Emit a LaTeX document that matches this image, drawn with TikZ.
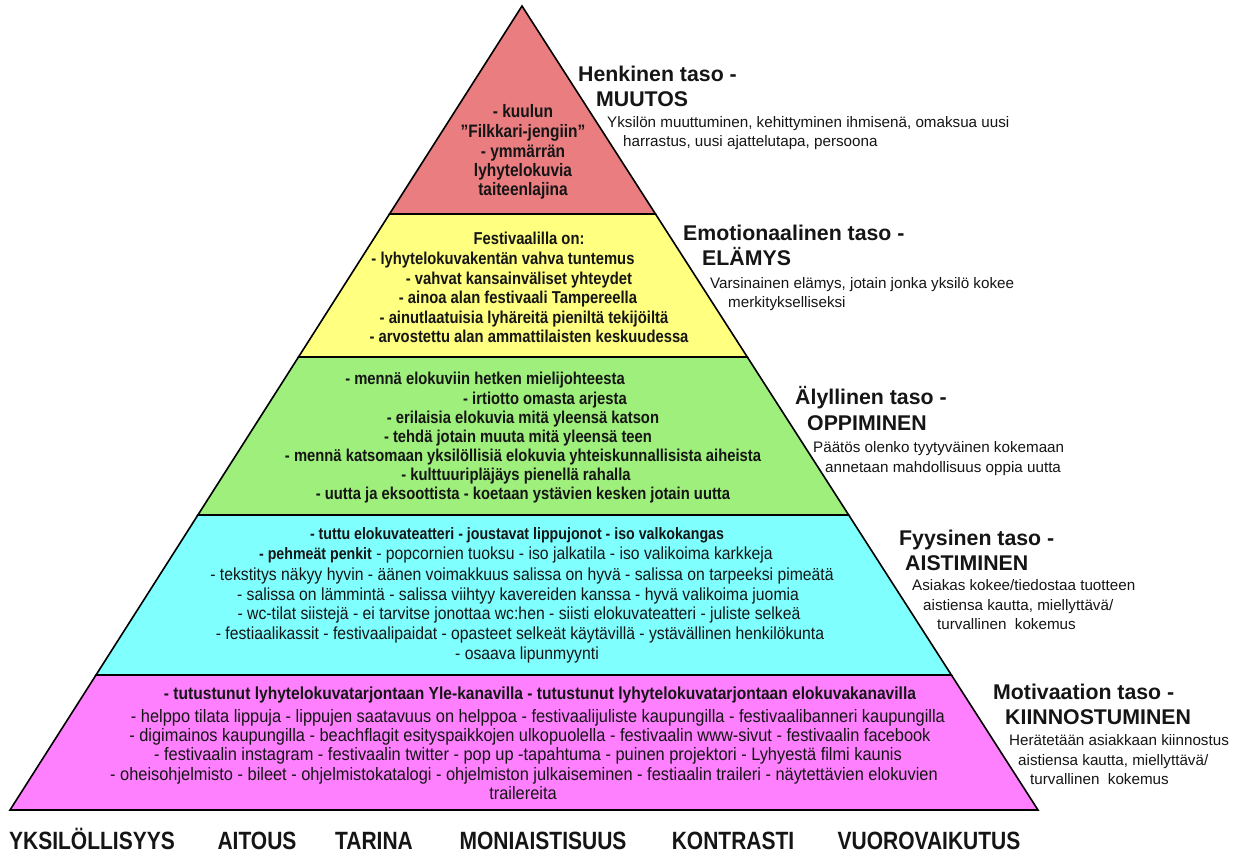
\documentclass[tikz,border=0pt]{standalone}
\usepackage{fontspec}
\setmainfont{Liberation Sans}
\newfontfamily\bandfont[FakeStretch=0.86]{Liberation Sans}
\newfontfamily\cyfont[FakeStretch=0.90]{Liberation Sans}
\newfontfamily\magbfont[FakeStretch=0.89]{Liberation Sans}
\newfontfamily\magfont[FakeStretch=0.91]{Liberation Sans}
\newfontfamily\capfont[FakeStretch=0.84]{Liberation Sans}
\definecolor{bred}{HTML}{E97D80}
\definecolor{byel}{HTML}{FFFF80}
\definecolor{bgrn}{HTML}{9FEF7C}
\definecolor{bcyn}{HTML}{80FFFF}
\definecolor{bmag}{HTML}{FF80FF}
\definecolor{ink}{HTML}{151515}
\tikzset{
  band/.style={draw=black, line width=1.6pt, line join=miter},
  tx/.style={inner sep=0pt, text=ink, anchor=base},
  rt/.style={tx, font=\bandfont\bfseries\fontsize{18}{21}\selectfont},
  bt/.style={tx, font=\bandfont\bfseries\fontsize{17.2}{20}\selectfont},
  cb/.style={tx, font=\bandfont\bfseries\fontsize{16.5}{20}\selectfont},
  cr/.style={tx, font=\cyfont\fontsize{17.5}{20}\selectfont},
  mb/.style={tx, font=\magbfont\bfseries\fontsize{17.5}{20}\selectfont},
  mr/.style={tx, font=\magfont\fontsize{18}{20}\selectfont},
  head/.style={font=\bfseries\fontsize{21.3}{25}\selectfont, anchor=base west, inner sep=0pt, text=ink},
  desc/.style={font=\fontsize{15.2}{18}\selectfont, anchor=base west, inner sep=0pt, text=ink},
  foot/.style={font=\capfont\bfseries\fontsize{25}{30}\selectfont, inner sep=0pt, text=ink, anchor=base}
}
\newcommand{\cbold}[1]{{\bandfont\bfseries\fontsize{16.5}{20}\selectfont #1}}
\begin{document}
\begin{tikzpicture}[x=1pt,y=-1pt]
\path[use as bounding box, fill=white] (0,0) rectangle (1240,854);
% bands
\path[band, fill=bred] (522,6) -- (655.5,214) -- (389.5,214) -- cycle;
\path[band, fill=byel] (389.5,214) -- (655.5,214) -- (747.3,357) -- (298.5,357) -- cycle;
\path[band, fill=bgrn] (298.5,357) -- (747.3,357) -- (848.7,515) -- (197.9,515) -- cycle;
\path[band, fill=bcyn] (197.9,515) -- (848.7,515) -- (951.4,675) -- (96,675) -- cycle;
\path[band, fill=bmag] (96,675) -- (951.4,675) -- (1038,810) -- (10,810) -- cycle;
% red
\node[rt] (r1) at (523,117) {- kuulun};
\node[rt] (r2) at (523,137) {”Filkkari-jengiin”};
\node[rt] (r3) at (523,157) {- ymmärrän};
\node[rt] (r4) at (523,176) {lyhytelokuvia};
\node[rt] (r5) at (523,195) {taiteenlajina};
% yellow
\node[bt] (y1) at (529,244) {Festivaalilla on:};
\node[bt] (y2) at (503,264) {- lyhytelokuvakentän vahva tuntemus};
\node[bt] (y3) at (519,284) {- vahvat kansainväliset yhteydet};
\node[bt] (y4) at (518,303) {- ainoa alan festivaali Tampereella};
\node[bt] (y5) at (524,323) {- ainutlaatuisia lyhäreitä pieniltä tekijöiltä};
\node[bt] (y6) at (529,342) {- arvostettu alan ammattilaisten keskuudessa};
% green
\node[bt] (g1) at (485,384) {- mennä elokuviin hetken mielijohteesta};
\node[bt] (g2) at (545,404) {- irtiotto omasta arjesta};
\node[bt] (g3) at (523,423) {- erilaisia elokuvia mitä yleensä katson};
\node[bt] (g4) at (518,442) {- tehdä jotain muuta mitä yleensä teen};
\node[bt] (g5) at (523,461) {- mennä katsomaan yksilöllisiä elokuvia yhteiskunnallisista aiheista};
\node[bt] (g6) at (516,480) {- kulttuuripläjäys pienellä rahalla};
\node[bt] (g7) at (523,499) {- uutta ja eksoottista - koetaan ystävien kesken jotain uutta};
% cyan
\node[cb] (c1) at (517,539) {- tuttu elokuvateatteri - joustavat lippujonot - iso valkokangas};
\node[cr] (c2) at (516,559) {\cbold{- pehmeät penkit} - popcornien tuoksu - iso jalkatila - iso valikoima karkkeja};
\node[cr] (c3) at (522,580) {- tekstitys näkyy hyvin - äänen voimakkuus salissa on hyvä - salissa on tarpeeksi pimeätä};
\node[cr] (c4) at (518,600) {- salissa on lämmintä - salissa viihtyy kavereiden kanssa - hyvä valikoima juomia};
\node[cr] (c5) at (519,619) {- wc-tilat siistejä - ei tarvitse jonottaa wc:hen - siisti elokuvateatteri - juliste selkeä};
\node[cr] (c6) at (520,639) {- festiaalikassit - festivaalipaidat - opasteet selkeät käytävillä - ystävällinen henkilökunta};
\node[cr] (c7) at (527,659) {- osaava lipunmyynti};
% magenta
\node[mb] (m1) at (540,699) {- tutustunut lyhytelokuvatarjontaan Yle-kanavilla - tutustunut lyhytelokuvatarjontaan elokuvakanavilla};
\node[mr] (m2) at (538,722) {- helppo tilata lippuja - lippujen saatavuus on helppoa - festivaalijuliste kaupungilla - festivaalibanneri kaupungilla};
\node[mr] (m3) at (530,741) {- digimainos kaupungilla - beachflagit esityspaikkojen ulkopuolella - festivaalin www-sivut - festivaalin facebook};
\node[mr] (m4) at (528,760) {- festivaalin instagram - festivaalin twitter - pop up -tapahtuma - puinen projektori - Lyhyestä filmi kaunis};
\node[mr] (m5) at (524,780) {- oheisohjelmisto - bileet - ohjelmistokatalogi - ohjelmiston julkaiseminen - festiaalin traileri - näytettävien elokuvien};
\node[mr] (m6) at (523,799) {trailereita};
% right labels
\node[head] (h1a) at (578,81) {Henkinen taso -};
\node[head] (h1b) at (596,106) {MUUTOS};
\node[desc] (h1c) at (607,127) {Yksilön muuttuminen, kehittyminen ihmisenä, omaksua uusi};
\node[desc] (h1d) at (623,146) {harrastus, uusi ajattelutapa, persoona};
\node[head] (h2a) at (683,240) {Emotionaalinen taso -};
\node[head] (h2b) at (702,265) {ELÄMYS};
\node[desc] (h2c) at (710,288) {Varsinainen elämys, jotain jonka yksilö kokee};
\node[desc] (h2d) at (728,307) {merkitykselliseksi};
\node[head] (h3a) at (795,404) {Älyllinen taso -};
\node[head] (h3b) at (807,430) {OPPIMINEN};
\node[desc] (h3c) at (813,452) {Päätös olenko tyytyväinen kokemaan};
\node[desc] (h3d) at (825,472) {annetaan mahdollisuus oppia uutta};
\node[head] (h4a) at (899,545) {Fyysinen taso -};
\node[head] (h4b) at (905,570) {AISTIMINEN};
\node[desc] (h4c) at (912,590) {Asiakas kokee/tiedostaa tuotteen};
\node[desc] (h4d) at (923,610) {aistiensa kautta, miellyttävä/};
\node[desc] (h4e) at (937,629) {turvallinen\ \ kokemus};
\node[head] (h5a) at (993,699) {Motivaation taso -};
\node[head] (h5b) at (1005,724) {KIINNOSTUMINEN};
\node[desc] (h5c) at (1009,745) {Herätetään asiakkaan kiinnostus};
\node[desc] (h5d) at (1018,765) {aistiensa kautta, miellyttävä/};
\node[desc] (h5e) at (1030,784) {turvallinen\ \ kokemus};
% footer
\node[foot] (f1) at (92,849) {YKSILÖLLISYYS};
\node[foot] (f2) at (257,849) {AITOUS};
\node[foot] (f3) at (374,849) {TARINA};
\node[foot] (f4) at (543,849) {MONIAISTISUUS};
\node[foot] (f5) at (733,849) {KONTRASTI};
\node[foot] (f6) at (929,849) {VUOROVAIKUTUS};
\end{tikzpicture}
\end{document}
